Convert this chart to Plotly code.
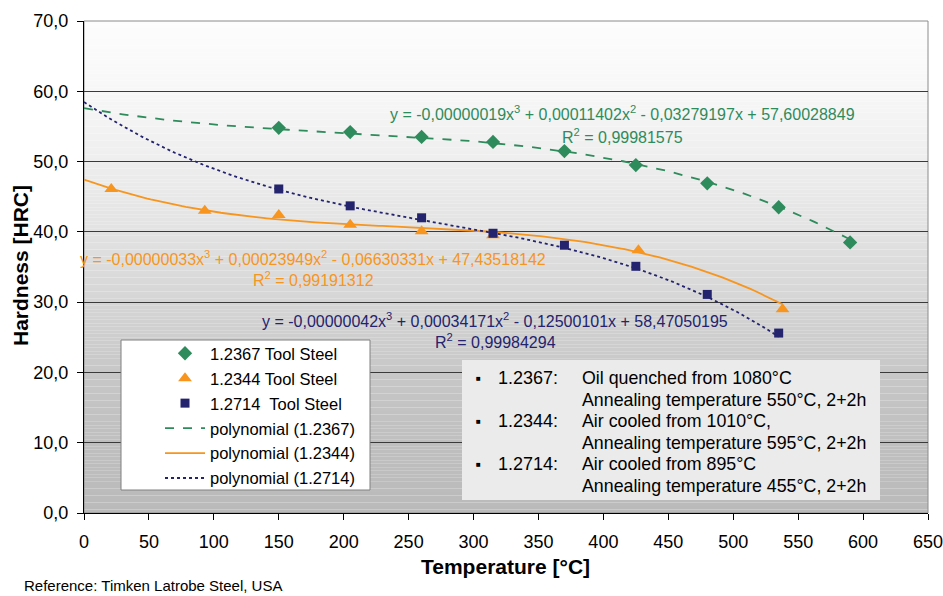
import numpy as np
import plotly.graph_objects as go

# ---------------- data ----------------
temp_2367 = [150, 205, 260, 315, 370, 425, 480, 535, 590]
hrc_2367 = [54.8, 54.2, 53.5, 52.8, 51.5, 49.5, 46.9, 43.5, 38.5]

temp_2344 = [21, 93, 150, 205, 260, 315, 427, 538]
hrc_2344 = [46.1, 43.0, 42.4, 41.0, 40.1, 39.5, 37.4, 29.0]

temp_2714 = [150, 205, 260, 315, 370, 425, 480, 535]
hrc_2714 = [46.1, 43.7, 42.0, 39.8, 38.1, 35.1, 31.1, 25.6]

# printed trendline coefficients (x^3, x^2, x, 1)
coef_2367 = [-0.00000019, 0.00011402, -0.03279197, 57.60028849]
coef_2344 = [-0.00000033, 0.00023949, -0.06630331, 47.43518142]
coef_2714 = [-0.00000042, 0.00034171, -0.12500101, 58.47050195]

eq_2367 = "y = -0,00000019x<sup>3</sup> + 0,00011402x<sup>2</sup> - 0,03279197x + 57,60028849"
r2_2367 = "R<sup>2</sup> = 0,99981575"
eq_2344 = "y = -0,00000033x<sup>3</sup> + 0,00023949x<sup>2</sup> - 0,06630331x + 47,43518142"
r2_2344 = "R<sup>2</sup> = 0,99191312"
eq_2714 = "y = -0,00000042x<sup>3</sup> + 0,00034171x<sup>2</sup> - 0,12500101x + 58,47050195"
r2_2714 = "R<sup>2</sup> = 0,99984294"

x_ticks = list(range(0, 651, 50))
y_ticks = [0, 10, 20, 30, 40, 50, 60, 70]
y_ticktext = ["0,0", "10,0", "20,0", "30,0", "40,0", "50,0", "60,0", "70,0"]

notes_codes = ["1.2367:", "", "1.2344:", "", "1.2714:", ""]
notes_text = ["Oil quenched from 1080°C", "Annealing temperature 550°C, 2+2h",
              "Air cooled from 1010°C,", "Annealing temperature 595°C, 2+2h",
              "Air cooled from 895°C", "Annealing temperature 455°C, 2+2h"]

GREEN = "#2e8b5c"
ORANGE = "#f7951e"
NAVY = "#23236e"
FONT = "Liberation Sans, Arial, sans-serif"

W, H = 943, 596
L, R, T, B = 84, 15, 21, 83
PW, PH = W - L - R, H - T - B


def px(xp):
    return (xp - L) / PW


def py(yp):
    return (H - B - yp) / PH


fig = go.Figure()

# trendlines
for coef, tmax, color, dash, name, rank in [
    (coef_2367, max(temp_2367), GREEN, "dash", "polynomial (1.2367)", 4),
    (coef_2344, max(temp_2344), ORANGE, "solid", "polynomial (1.2344)", 5),
    (coef_2714, max(temp_2714), NAVY, "dot", "polynomial (1.2714)", 6),
]:
    xs = np.linspace(0, tmax, 200)
    fig.add_trace(go.Scatter(x=xs, y=np.polyval(coef, xs), mode="lines",
                             line=dict(color=color, width=1.8, dash=dash),
                             name=name, legendgroup=name, legendrank=rank,
                             hoverinfo="skip"))

fig.add_trace(go.Scatter(x=temp_2367, y=hrc_2367, mode="markers", name="1.2367 Tool Steel",
                         legendgroup="a", legendrank=1,
                         marker=dict(symbol="diamond", size=11, color=GREEN)))
fig.add_trace(go.Scatter(x=temp_2344, y=hrc_2344, mode="markers", name="1.2344 Tool Steel",
                         legendgroup="b", legendrank=2,
                         marker=dict(symbol="triangle-up", size=12, color=ORANGE)))
fig.add_trace(go.Scatter(x=temp_2714, y=hrc_2714, mode="markers", name="1.2714  Tool Steel",
                         legendgroup="c", legendrank=3,
                         marker=dict(symbol="square", size=9, color=NAVY)))

shapes = []
# gradient background (bands)
stops_y = [0, 10, 20, 30, 40, 50, 60, 70]
stops_c = [186, 191, 199, 213, 226, 238, 247, 253]
n = 140
for i in range(n):
    y0 = 70 * i / n
    y1 = 70 * (i + 1) / n
    c = int(round(np.interp((y0 + y1) / 2, stops_y, stops_c)))
    shapes.append(dict(type="rect", xref="paper", yref="y", x0=0, x1=1, y0=y0, y1=y1,
                       fillcolor=f"rgb({c},{c},{c})", line=dict(width=0), layer="below"))
# plot border (gray)
shapes.append(dict(type="rect", xref="paper", yref="paper", x0=0, x1=1, y0=0, y1=1,
                   line=dict(color="#8c8c8c", width=1), layer="below"))
# legend box
shapes.append(dict(type="rect", xref="paper", yref="paper",
                   x0=px(121), x1=px(370), y0=py(490), y1=py(340),
                   fillcolor="white", line=dict(color="#808080", width=1), layer="above"))
# notes box
shapes.append(dict(type="rect", xref="paper", yref="paper",
                   x0=px(462), x1=px(880), y0=py(500), y1=py(360),
                   fillcolor="#ebebeb", line=dict(width=0), layer="above"))

ann = []
# equations
for cx, y1, y2, t1, t2, col in [
    (622, 113, 136, eq_2367, r2_2367, GREEN),
    (313, 258, 279, eq_2344, r2_2344, ORANGE),
    (495, 320, 341, eq_2714, r2_2714, NAVY),
]:
    for yy, tt in [(y1, t1), (y2, t2)]:
        ann.append(dict(xref="paper", yref="paper", x=px(cx), y=py(yy), text=tt,
                        showarrow=False, xanchor="center", yanchor="middle",
                        font=dict(family=FONT, size=16, color=col)))

rows_y = [378, 400, 421, 443, 464, 486]
for yy, code, txt in zip(rows_y, notes_codes, notes_text):
    if code:
        ann.append(dict(xref="paper", yref="paper", x=px(478), y=py(yy), text="■",
                        showarrow=False, xanchor="center", yanchor="middle",
                        font=dict(family=FONT, size=8, color="black")))
        ann.append(dict(xref="paper", yref="paper", x=px(496), y=py(yy), text=code,
                        showarrow=False, xanchor="left", yanchor="middle",
                        font=dict(family=FONT, size=18, color="black")))
    ann.append(dict(xref="paper", yref="paper", x=px(580), y=py(yy), text=txt,
                    showarrow=False, xanchor="left", yanchor="middle",
                    font=dict(family=FONT, size=17.8, color="black")))

# axis titles
ann.append(dict(xref="paper", yref="paper", x=px(505), y=py(566), text="<b>Temperature [°C]</b>",
                showarrow=False, xanchor="center", yanchor="middle",
                font=dict(family=FONT, size=21, color="black")))
ann.append(dict(xref="paper", yref="paper", x=px(20), y=py(266), text="<b>Hardness [HRC]</b>",
                showarrow=False, xanchor="center", yanchor="middle", textangle=-90,
                font=dict(family=FONT, size=21, color="black")))

ann.append(dict(xref="paper", yref="paper", x=px(22), y=py(585),
                text="Reference: Timken Latrobe Steel, USA", showarrow=False,
                xanchor="left", yanchor="middle", font=dict(family=FONT, size=15, color="black")))

fig.update_layout(
    width=W, height=H,
    margin=dict(l=L, r=R, t=T, b=B, autoexpand=False),
    paper_bgcolor="white", plot_bgcolor="white",
    font=dict(family=FONT, color="black"),
    shapes=shapes, annotations=ann,
    showlegend=True,
    legend=dict(x=px(160), y=py(336), xanchor="left", yanchor="top",
                bgcolor="rgba(0,0,0,0)", borderwidth=0,
                font=dict(family=FONT, size=16.5, color="black"),
                tracegroupgap=0.5, traceorder="grouped", itemwidth=40),
    xaxis=dict(range=[0, 650], tickvals=x_ticks, ticks="outside", ticklen=6,
               tickcolor="black", showline=True, linecolor="black", linewidth=1.2,
               showgrid=False, zeroline=False, tickfont=dict(size=18), automargin=False,
               ticklabelstandoff=6, ticklabeloverflow="allow"),
    yaxis=dict(range=[0, 70], tickvals=y_ticks, ticktext=y_ticktext, ticks="outside",
               ticklen=6, tickcolor="black", showline=True, linecolor="black", linewidth=1.2,
               showgrid=True, gridcolor="#3a3a3a", gridwidth=1, zeroline=False,
               tickfont=dict(size=18), automargin=False, ticklabelstandoff=5,
               ticklabeloverflow="allow"),
)

fig.write_html("out.html", config={"displayModeBar": False},
               post_script="document.body.style.margin='0';document.body.style.padding='0';"
                           "document.documentElement.style.overflow='hidden';")
